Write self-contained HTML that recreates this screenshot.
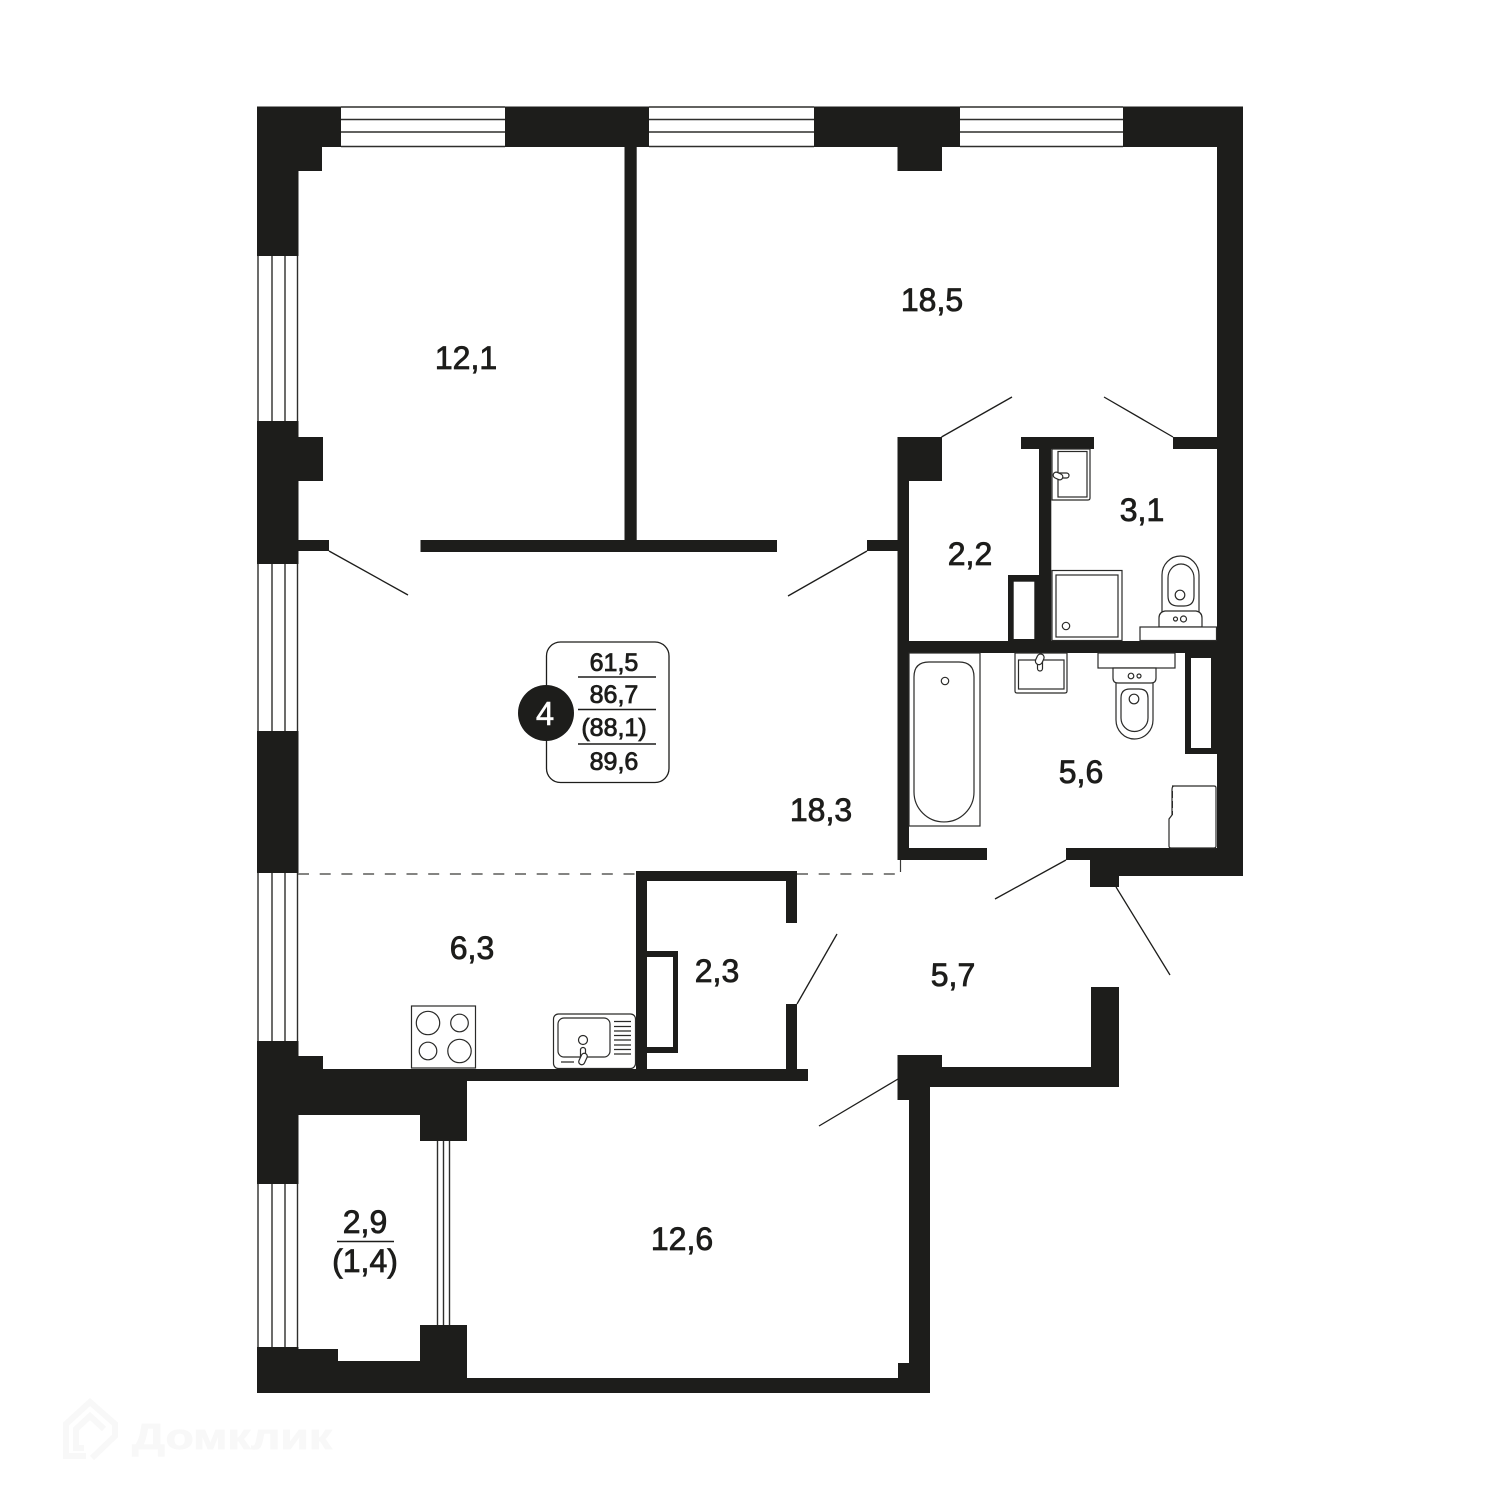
<!DOCTYPE html>
<html>
<head>
<meta charset="utf-8">
<style>
html,body{margin:0;padding:0;background:#fff;width:1500px;height:1500px;overflow:hidden}
svg{display:block}
text{font-family:"Liberation Sans",sans-serif;fill:#1d1d1b;text-anchor:middle;stroke:#1d1d1b;stroke-width:.8px}
</style>
</head>
<body>
<svg width="1500" height="1500" viewBox="0 0 1500 1500" xmlns="http://www.w3.org/2000/svg">
<rect width="1500" height="1500" fill="#fff"/>

<!-- watermark -->
<g fill="none" stroke="#f8f8f8" stroke-width="6">
<path d="M86 1456H66V1424L90 1402L115 1424V1436L92 1458"/>
<path d="M84 1448H76V1429L90 1416L104 1429"/>
</g>
<text x="232" y="1449" font-size="36" font-weight="bold" textLength="200" lengthAdjust="spacingAndGlyphs" style="fill:#f8f8f8;stroke:#f8f8f8">Домклик</text>

<!-- windows -->
<g fill="none" stroke="#2e2e2c" stroke-width="1.400">
<path d="M341 107H505M341 119.500H505M341 132H505M341 146.500H505"/>
<path d="M649 107H814M649 119.500H814M649 132H814M649 146.500H814"/>
<path d="M960 107H1123M960 119.500H1123M960 132H1123M960 146.500H1123"/>
<path d="M258 256V421M272 256V421M285 256V421M297.500 256V421"/>
<path d="M258 564V731M272 564V731M285 564V731M297.500 564V731"/>
<path d="M258 873V1041M272 873V1041M285 873V1041M297.500 873V1041"/>
<path d="M258 1184V1347M272 1184V1347M285 1184V1347M297.500 1184V1347"/>
<path d="M437.500 1141V1325M443.500 1141V1325M449.500 1141V1325"/>
</g>

<!-- dashed zone line -->
<path d="M298 874H636M797 874H900" fill="none" stroke="#3a3a38" stroke-width="1.200" stroke-dasharray="11 10.700"/>
<path d="M900.500 860V872" stroke="#3a3a38" stroke-width="1.200"/>

<!-- walls -->
<g fill="#1d1d1b">
<path d="M257 106.500H341V147H322V171H298.500V256H257Z"/>
<rect x="505" y="106.500" width="144" height="40.500"/>
<path d="M814 106.500H960V147H942V171H897.500V147H814Z"/>
<path d="M1123 106.500H1243V876H1119V887H1090V860H1066V848H1217V754H1185V653H1217V449H1173V437H1217V147H1123Z"/>
<path d="M257 421H298.500V437H323V481H298.500V540H329V551H298.500V564H257Z"/>
<rect x="257" y="731" width="41.500" height="142"/>
<path d="M257 1041H298.500V1056H323V1069H808V1081H467V1141H420V1115H298.500V1184H257Z"/>
<path d="M257 1347H298.500V1349H338V1361H420V1325H467V1378H898V1363H909V1100H897.500V1055H942V1067H1091V987H1119V1087H930V1393H257Z"/>
<rect x="624.500" y="147" width="12.200" height="394"/>
<rect x="420.500" y="540" width="356.500" height="12"/>
<rect x="867" y="540" width="32" height="11"/>
<path d="M897.500 437H942V481H909V641H1008V575H1039V449H1021V437H1094V449H1051.300V641H1217V653H909V848H987V860H897.500Z"/>
<rect x="1185" y="641" width="32" height="113"/>
<path d="M636 871H797V923H786V881H647V951H678V1053H647V1069H786V1004H797V1081H636Z"/>
</g>
<g fill="#fff">
<rect x="1013.700" y="581.700" width="20.600" height="57.300"/>
<rect x="1191" y="658" width="20" height="90"/>
<rect x="647" y="957" width="26" height="90"/>
</g>

<!-- door leaves -->
<g stroke="#1d1d1b" stroke-width="1.300" fill="none">
<path d="M329 551L408 595"/>
<path d="M867 551L788 596"/>
<path d="M941.500 437L1012 397"/>
<path d="M1173 437L1104 397"/>
<path d="M1066 860L995 899"/>
<path d="M1116 887L1170 975"/>
<path d="M797 1004L837 934"/>
<path d="M898 1079L819 1126"/>
</g>

<!-- fixtures -->
<g fill="#fff" stroke="#2a2a28" stroke-width="1.200">
<path d="M1052 449H1090V498Q1090 500 1088 500H1052Z"/>
<rect x="1058" y="451.500" width="29" height="45.500"/>
<rect x="1054" y="473" width="15" height="5" rx="2.500"/>
<rect x="1053" y="473" width="10" height="6" rx="3" transform="rotate(25 1058 476)"/>
<rect x="1052" y="570.500" width="70" height="70"/>
<rect x="1056" y="575" width="62" height="62"/>
<circle cx="1066" cy="626" r="3.700"/>
<path d="M1162 612V575A18.500 19 0 0 1 1199 575V612Z"/>
<path d="M1168 578A13 14 0 0 1 1194 578V596Q1194 606 1184 606H1178Q1168 606 1168 596Z"/>
<circle cx="1180" cy="595" r="4.800"/>
<path d="M1159 627V618Q1159 612 1165 611H1196Q1202 612 1202 618V627Z"/>
<circle cx="1175.500" cy="619" r="2"/>
<circle cx="1183.500" cy="619" r="3"/>
<rect x="1140" y="627" width="76.500" height="13.500"/>
<rect x="909" y="653" width="71" height="173"/>
<path d="M914 677Q914 662 929 662H959Q974 662 974 677V792A30 30 0 0 1 914 792Z"/>
<circle cx="945" cy="681" r="3.700"/>
<path d="M1015 653H1067V691Q1067 693 1065 693H1017Q1015 693 1015 691Z"/>
<rect x="1018.500" y="660" width="45.500" height="29"/>
<rect x="1037.500" y="658" width="5" height="13" rx="2.500"/>
<rect x="1036" y="654" width="7" height="11" rx="3.500" transform="rotate(25 1040 660)"/>
<rect x="1098" y="653" width="77" height="15"/>
<path d="M1116 680V720A18.500 19 0 0 0 1153 720V680Z"/>
<path d="M1113 668V678Q1113 683 1118 683H1151Q1156 683 1156 678V668Z"/>
<path d="M1121 698Q1121 689 1130 689H1139Q1148 689 1148 698V718A13.500 13.500 0 0 1 1121 718Z"/>
<circle cx="1134" cy="699" r="4.800"/>
<circle cx="1131" cy="676" r="2.800"/>
<circle cx="1139" cy="676" r="2"/>
<path d="M1172 786H1214Q1216 786 1216 788V846Q1216 848 1214 848H1171Q1169 848 1169 846V819L1172 815V790Q1172 786 1174 786Z"/>
<path d="M1172.500 791V815" stroke-width="1" stroke-dasharray="7 3"/>
<rect x="411.500" y="1006" width="64" height="62"/>
<circle cx="428" cy="1023" r="11.700"/>
<circle cx="459.500" cy="1023" r="8.800"/>
<circle cx="428" cy="1051" r="8.800"/>
<circle cx="459.500" cy="1051" r="11.700"/>
<rect x="553.500" y="1014" width="82" height="54.500" rx="5"/>
<rect x="558" y="1018" width="52" height="39" rx="6"/>
<circle cx="583" cy="1040" r="4.500"/>
<rect x="580.500" y="1047.500" width="5" height="14" rx="2.500"/>
<rect x="580" y="1053" width="6" height="12" rx="3" transform="rotate(25 583 1059)"/>
<path d="M561 1062H574M614 1021.500H631M614 1026.500H631M614 1031H631M614 1035.500H631M614 1040H631M614 1045H631M614 1049.500H631M614 1054H631" fill="none"/>
</g>

<!-- room labels -->
<g font-size="32">
<text x="466" y="369">12,1</text>
<text x="932" y="311">18,5</text>
<text x="1142" y="521">3,1</text>
<text x="970" y="565">2,2</text>
<text x="1081" y="783">5,6</text>
<text x="821" y="821">18,3</text>
<text x="472" y="959">6,3</text>
<text x="717" y="982">2,3</text>
<text x="953" y="986">5,7</text>
<text x="682" y="1250">12,6</text>
<text x="365" y="1233">2,9</text>
<text x="365" y="1272">(1,4)</text>
</g>
<path d="M337 1241.500H394" stroke="#1d1d1b" stroke-width="1.500"/>

<!-- summary panel -->
<rect x="546.500" y="642" width="122.500" height="140.500" rx="14" fill="#fff" stroke="#1d1d1b" stroke-width="1.300"/>
<g stroke="#1d1d1b" stroke-width="1.500">
<path d="M578 677H656M578 709.500H656M578 744H656"/>
</g>
<g font-size="25">
<text x="614" y="671">61,5</text>
<text x="614" y="703">86,7</text>
<text x="614" y="736">(88,1)</text>
<text x="614" y="770">89,6</text>
</g>
<circle cx="546" cy="713" r="28" fill="#1d1d1b"/>
<text x="545" y="725" font-size="33" style="fill:#fff;stroke:#fff;stroke-width:.5px">4</text>
</svg>
</body>
</html>
